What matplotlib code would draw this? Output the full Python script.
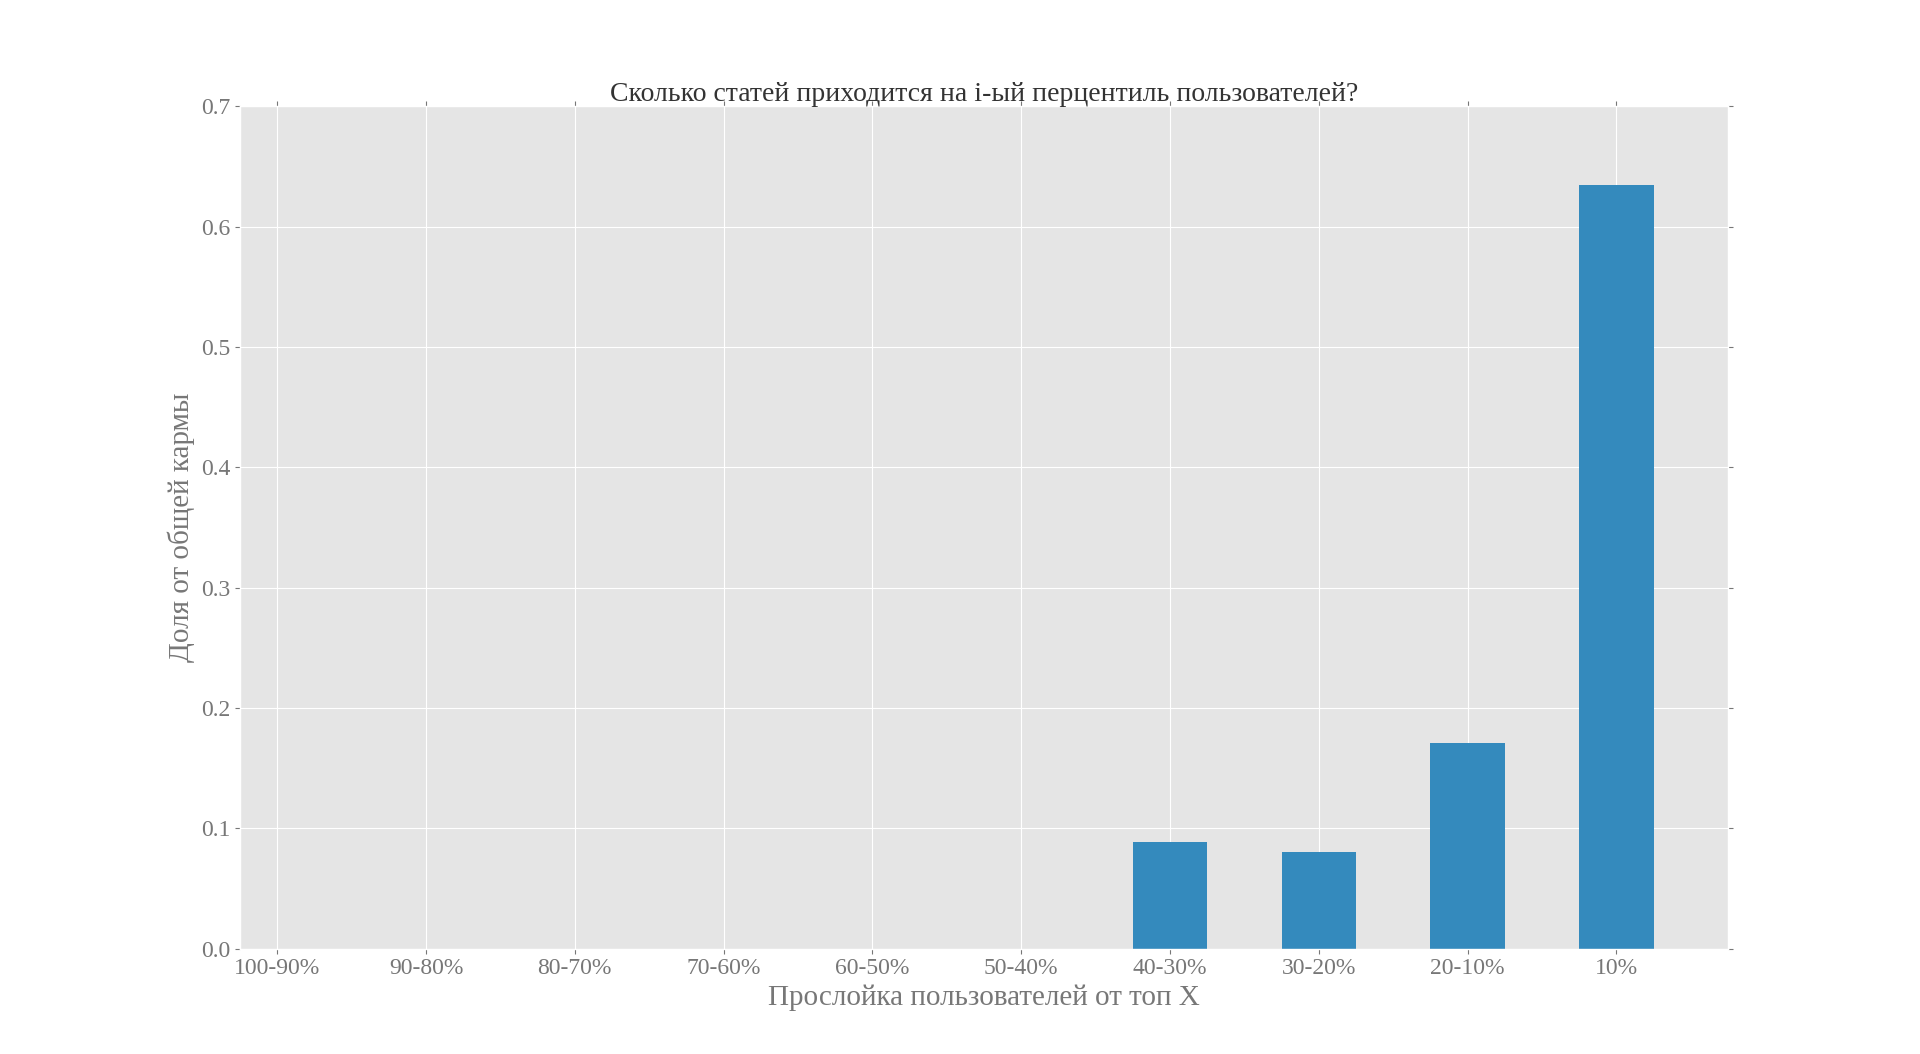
import matplotlib
matplotlib.use('Agg')
import matplotlib.pyplot as plt

plt.style.use('ggplot')
plt.rcParams['font.family'] = ['Liberation Serif', 'DejaVu Serif']

labels = ['100-90%', '90-80%', '80-70%', '70-60%', '60-50%', '50-40%',
          '40-30%', '30-20%', '20-10%', '10%']
shares = [0.0, 0.0, 0.0, 0.0, 0.0, 0.0, 0.089, 0.080, 0.171, 0.635]

fig = plt.figure(figsize=(19.2, 10.54), dpi=100)
ax = fig.add_axes([0.125, 0.100, 0.775, 0.799])
x = range(len(labels))
ax.bar(x, shares, width=0.5, color='#348ABD')
ax.set_xticks(list(x))
ax.set_xticklabels(labels, fontsize=17, color='#777777')
ax.set_xlim(-0.25, 9.75)
ax.set_ylim(0, 0.7)
ax.set_yticks([i / 10 for i in range(8)])
ax.set_yticklabels([f'{i / 10:.1f}' for i in range(8)], fontsize=17, color='#777777')
ax.tick_params(direction='out', top=True, right=True, color='#777777')
ax.set_title('Сколько статей приходится на i-ый перцентиль пользователей?',
             fontsize=20, color='#333333', pad=4)
ax.set_xlabel('Прослойка пользователей от топ X', fontsize=21, color='#777777', labelpad=4)
ax.set_ylabel('Доля от общей кармы', fontsize=21, color='#777777')
fig.savefig('out.png')
